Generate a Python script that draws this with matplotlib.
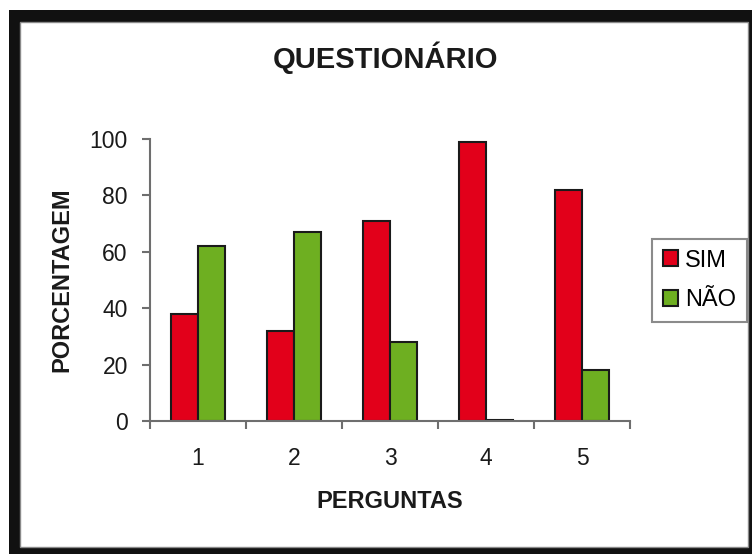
import numpy as np
import matplotlib
matplotlib.use("Agg")
import matplotlib.pyplot as plt
from matplotlib.patches import Rectangle, Patch

# data
perguntas = ["1", "2", "3", "4", "5"]
sim = [38, 32, 71, 99, 82]
nao = [62, 67, 28, 0.5, 18]
series_names = ["SIM", "NÃO"]

plt.rcParams['font.family'] = ['Liberation Sans', 'DejaVu Sans']

W, H = 752, 554
fig = plt.figure(figsize=(W / 100, H / 100), dpi=100)
fig.patch.set_facecolor('white')

# black picture frame with the white panel inside
fig.add_artist(Rectangle((9 / W, 0), (W - 9) / W, 544 / H, transform=fig.transFigure,
                         facecolor='#111111', edgecolor='none', zorder=-2))
fig.add_artist(Rectangle((20 / W, 7 / H), 728 / W, 525 / H, transform=fig.transFigure,
                         facecolor='white', edgecolor='#8a8a8a', linewidth=1, zorder=-1))

ax = fig.add_axes([150 / W, (H - 421) / H, 480 / W, 282 / H])
ax.set_facecolor('none')

x = np.arange(1, len(perguntas) + 1)
w = 1 / 3.5
red = '#E2001A'
green = '#6EAF21'
ax.bar(x - w / 2, sim, w, color=red, edgecolor='#1a1a1a', linewidth=1.5, label=series_names[0])
ax.bar(x + w / 2, nao, w, color=green, edgecolor='#1a1a1a', linewidth=1.5, label=series_names[1])

ax.set_xlim(0.5, len(perguntas) + 0.5)
ax.set_ylim(0, 100)
ax.set_yticks(range(0, 101, 20))
ax.set_xticks(x)
ax.set_xticklabels(perguntas)
ax.set_xticks(np.arange(0.5, len(perguntas) + 1, 1), minor=True)

for s in ['top', 'right']:
    ax.spines[s].set_visible(False)
for s in ['left', 'bottom']:
    ax.spines[s].set_color('#6e6e6e')
    ax.spines[s].set_linewidth(1.5)

ax.tick_params(axis='y', length=6, width=1.5, color='#6e6e6e', pad=10,
               labelsize=16.5, labelcolor='#1a1a1a')
ax.tick_params(axis='x', which='major', length=0, pad=19, labelsize=16.5, labelcolor='#1a1a1a')
ax.tick_params(axis='x', which='minor', length=6, width=1.5, color='#6e6e6e')

ax.set_xlabel("PERGUNTAS", fontsize=17, fontweight='bold', color='#1a1a1a', va='center')
ax.xaxis.set_label_coords(0.5, -0.287)
ax.set_ylabel("PORCENTAGEM", fontsize=17, fontweight='bold', color='#1a1a1a', va='center')
ax.yaxis.set_label_coords(-0.183, 0.5)

fig.text(386 / W, 1 - 58 / H, "QUESTIONÁRIO", fontsize=21, fontweight='bold',
         color='#1a1a1a', ha='center', va='center')

handles = [Patch(facecolor=red, edgecolor='#1a1a1a', linewidth=1.5),
           Patch(facecolor=green, edgecolor='#1a1a1a', linewidth=1.5)]
leg = fig.legend(handles, series_names, loc='upper left',
                 bbox_to_anchor=(652 / W, 1 - 239 / H), fontsize=17,
                 handlelength=0.65, handleheight=0.65, handletextpad=0.3,
                 borderpad=0.45, labelspacing=0.75, borderaxespad=0,
                 fancybox=False, frameon=True)
leg.get_frame().set_edgecolor('#6e6e6e')
leg.get_frame().set_linewidth(1.5)

fig.savefig("out.png", dpi=100)
